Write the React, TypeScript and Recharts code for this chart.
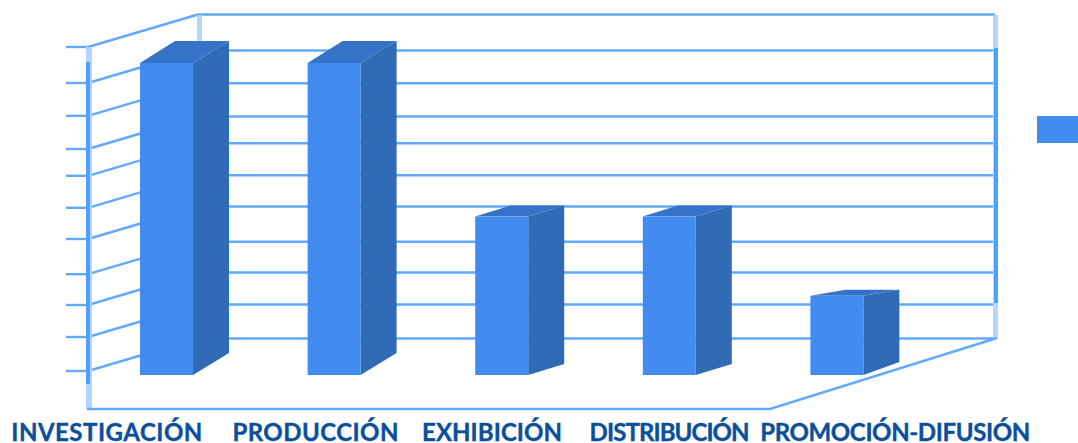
import { BarChart, Bar, XAxis, YAxis, CartesianGrid, Legend } from "recharts";

const categories = ["INVESTIGACIÓN", "PRODUCCIÓN", "EXHIBICIÓN", "DISTRIBUCIÓN", "PROMOCIÓN-DIFUSIÓN"];
const seriesValues = [39, 39, 19.8, 19.8, 9.9];
const gridTicks = [0.5, 4.75, 8.75, 12.6, 17, 20.9, 24.9, 28.25, 32.4, 36.5, 41];

const data = categories.map((name, i) => ({ name, value: seriesValues[i] }));

const BAR_FRONT = "#418bf1";
const BAR_SIDE = "#316bb5";
const BAR_TOP = "#3473c8";
const GRID = "#62a9ff";
const GRID_CORE = "#4f9fff";
const GRID_SOFT = "#b4d5ff";
const LABEL = "#0b4f9b";

// Floor and wall geometry of the fake 3D box
const WALL_FRONT_X = 88;
const WALL_BACK_X = 198;
const WALL_RIGHT_X = 995;
const WALL_RISE = 32.5;
const TICK_START_X = 66;

// Vertical skew of each column: the view shifts from left to right
const BAR_DEPTH = 36;
const topRise = [22, 22, 11, 11, 6];
const bottomRise = [22, 22, 11, 11, 13];
// Axis labels sit off-centre so the long ones do not collide
const labelShift = [-60, -19, -10, 0, 58];
const labelWidth = [191, 166, 140, 160, 270];

function GridRow({ y1 }: any) {
  const backY = y1 - WALL_RISE;
  return (
    <g fill="none" stroke={GRID} strokeWidth={2.4}>
      <line x1={TICK_START_X} y1={y1} x2={WALL_FRONT_X} y2={y1} />
      <line x1={WALL_FRONT_X} y1={y1} x2={WALL_BACK_X} y2={backY} />
      <line x1={WALL_BACK_X} y1={backY} x2={WALL_RIGHT_X} y2={backY} />
    </g>
  );
}

function Box3D({ x, y, width, height, index }: any) {
  const rt = topRise[index];
  const rb = bottomRise[index];
  const right = x + width;
  const bottom = y + height;
  return (
    <g>
      <polygon
        points={`${x},${y} ${x + BAR_DEPTH - 1},${y - rt} ${right + BAR_DEPTH},${y - rt} ${right},${y}`}
        fill={BAR_TOP}
      />
      <polygon
        points={`${right},${y} ${right + BAR_DEPTH},${y - rt} ${right + BAR_DEPTH},${bottom - rb} ${right},${bottom}`}
        fill={BAR_SIDE}
      />
      <rect x={x} y={y} width={width} height={height} fill={BAR_FRONT} />
    </g>
  );
}

function CategoryTick({ x, payload, index }: any) {
  return (
    <text
      x={x + labelShift[index]}
      y={441}
      textAnchor="middle"
      fill={LABEL}
      stroke={LABEL}
      strokeWidth={0.4}
      fontFamily="Lato, sans-serif"
      fontWeight={700}
      fontSize={24}
      textLength={labelWidth[index]}
    >
      {payload.value}
    </text>
  );
}

// The value axis carries no numbers, only the grid rows
function NoTick() {
  return <g />;
}

function LegendSwatch() {
  return <div style={{ width: 41, height: 27, background: BAR_FRONT }} />;
}

// Wall uprights and the floor outline
function Frame() {
  return (
    <g>
      <rect x={197} y={15} width={5} height={30} fill={GRID_SOFT} />
      <rect x={86} y={47} width={6} height={362} fill={GRID_SOFT} />
      <rect x={86} y={62} width={4} height={322} fill={GRID_CORE} />
      <rect x={993} y={15} width={5} height={323} fill={GRID_SOFT} />
      <rect x={994} y={48} width={4} height={255} fill={GRID_CORE} />
      <polyline points="87,409 770,409 997,338" fill="none" stroke={GRID} strokeWidth={2.4} />
    </g>
  );
}

export default function App() {
  return (
    <div style={{ position: "absolute", left: 0, top: 0, width: 1078, height: 443, overflow: "hidden", background: "#fff" }}>
      <BarChart width={1078} height={443} data={data} margin={{ top: 15, right: 116, bottom: 0, left: 0 }} barSize={53}>
        <CartesianGrid
          horizontalValues={gridTicks}
          horizontal={(props: any) => <GridRow key={props.key} {...props} />}
          vertical={false}
        />
        <Frame />
        <XAxis dataKey="name" height={68} axisLine={false} tickLine={false} interval={0} tick={CategoryTick} />
        <YAxis width={83} domain={[0, 45]} ticks={gridTicks} interval={0} axisLine={false} tickLine={false} tick={NoTick} />
        <Legend
          layout="vertical"
          align="right"
          verticalAlign="middle"
          content={LegendSwatch}
          wrapperStyle={{ left: 1037, top: 116, width: 41, height: 27 }}
        />
        <Bar dataKey="value" name="Serie 1" shape={Box3D} isAnimationActive={false} />
      </BarChart>
    </div>
  );
}
